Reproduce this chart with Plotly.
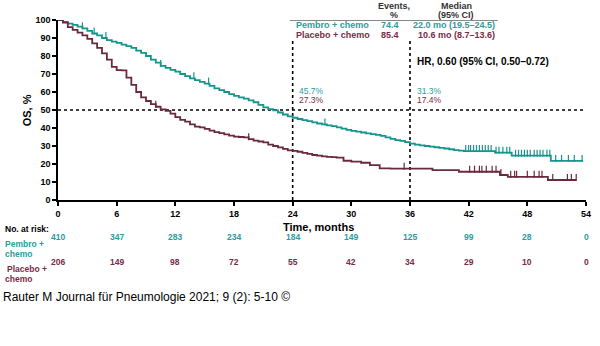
import numpy as np
import plotly.graph_objects as go

# ---------------- data ----------------
pem_t = [0, 0.5, 1, 1.5, 2, 2.5, 3, 3.5, 4, 4.5, 5, 5.5, 6, 6.5, 7, 7.5, 8, 8.5, 9, 9.5,
         10, 10.5, 11, 11.5, 12, 12.5, 13, 13.5, 14, 14.5, 15, 15.5, 16, 16.5, 17, 17.5,
         18, 18.5, 19, 19.5, 20, 20.5, 21, 21.5, 22, 22.5, 23, 23.5, 24, 24.5, 25, 25.5,
         26, 26.5, 27, 27.5, 28, 28.5, 29, 29.5, 30, 30.5, 31, 31.5, 32, 32.5, 33, 33.5,
         34, 34.5, 35, 35.5, 36, 36.5, 37, 37.5, 38, 38.5, 39, 39.5, 40, 40.5, 41, 41.5,
         44.7, 46.4, 50.4, 53.7]
pem_s = [100, 99, 98, 97.3, 96.3, 95.4, 94, 92.5, 91.5, 90, 88.8, 88, 87.3, 86.3, 85.5, 84.5,
         83, 81.7, 80, 78, 76.3, 74.5, 73.4, 72.3, 71.3, 70, 68.8, 67.6, 66.6, 65.6, 64.7,
         63.4, 62, 61, 60, 58.8, 57.8, 57, 56.3, 55.3, 54.3, 52.8, 51.5, 50.5, 49.8, 48.6,
         47.5, 46.5, 45.7, 45, 44.4, 43.8, 43.1, 42.5, 42, 41.5, 41, 40.4, 39.6, 39, 38.4,
         38, 37.5, 37, 36.6, 36.2, 35.6, 34.8, 34, 33.3, 32.8, 32.2, 31.3, 30.8, 30.4, 30,
         29.6, 29.3, 29, 28.6, 28.2, 27.7, 27.4, 27.2, 26.3, 24.6, 21.7, 21.7]
pem_cens = [2.5, 3.7, 4.9, 10.5, 13.9, 15.4, 27.3,
            41.7, 42.0, 42.2, 42.5, 42.8, 43.1, 43.4, 43.7, 44.0, 44.3, 44.8, 45.1, 45.5,
            45.9, 46.2, 46.8, 47.1, 47.4, 47.7, 48.0, 48.3, 48.7, 49.0, 49.3, 49.6, 50.0,
            50.3, 50.9, 51.5, 52.2, 52.8, 53.6]

pla_t = [0, 0.5, 1, 1.5, 2, 2.5, 3, 3.5, 4, 4.5, 5, 5.5, 6, 6.5, 7, 7.5, 8, 8.5, 9, 9.5,
         10, 10.5, 11, 11.5, 12, 12.5, 13, 13.5, 14, 14.5, 15, 15.5, 16, 16.5, 17, 17.5,
         18, 18.5, 19, 19.5, 20, 20.5, 21, 21.5, 22, 22.5, 23, 23.5, 24, 24.5, 25, 25.5,
         26, 26.5, 27, 27.5, 28, 28.5, 29.2, 30, 31, 31.9, 32.9, 34, 38.3, 41, 45.2, 46,
         50.1, 53]
pla_s = [100, 98.5, 96, 94.5, 93, 91.5, 89.5, 87, 84.5, 81.5, 78, 74, 72.2, 72, 68, 64, 60,
         57, 55, 53.3, 51.8, 50.3, 49.5, 48, 46, 44.5, 43.5, 42, 40.8, 40.3, 39.5, 38.5,
         37.7, 37.2, 36.5, 35.8, 35.2, 35, 34.8, 33.8, 33, 32.5, 32, 30.8, 30, 29.2, 28.4,
         27.6, 27.3, 26.8, 26.2, 25.6, 25, 24.6, 24.2, 24, 23.8, 23.5, 21.8, 21.3, 20.7,
         19.4, 17.6, 17.4, 16.6, 15.7, 13.9, 12.9, 11.1, 11.1]
pla_cens = [10.0, 19.5, 35.4, 42.1, 42.6, 43.1, 43.35, 43.8, 44.4, 44.8, 45.3, 46.3, 46.7,
            46.9, 48.0, 48.7, 49.2, 49.5, 50.6, 52.1, 52.5, 53.0]

risk_times = [0, 6, 12, 18, 24, 30, 36, 42, 48, 54]
risk_pem = [410, 347, 283, 234, 184, 149, 125, 99, 28, 0]
risk_pla = [206, 149, 98, 72, 55, 42, 34, 29, 10, 0]

x_ticks = [0, 6, 12, 18, 24, 30, 36, 42, 48, 54]
y_ticks = [0, 10, 20, 30, 40, 50, 60, 70, 80, 90, 100]

TEAL = "#16958e"
MAROON = "#6a2a3c"
TEAL_TXT = "#2b9c9a"
MAROON_TXT = "#7a2b48"
FONT = "Liberation Sans"

# ---------------- layout helpers (pixel -> paper / axis coords) ----------------
L, R, T, B = 58, 591, 20, 200
W, H = 600, 346
def px2x(px):
    return (px - L) / (R - L) * 54
def py2y(py):
    return (B - py) / (B - T) * 100
def px2p(px):
    return (px - L) / (R - L)
def py2p(py):
    return (B - py) / (B - T)

def step_val(ts, ss, t):
    i = np.searchsorted(np.array(ts), t, side="right") - 1
    return ss[max(i, 0)]

fig = go.Figure()
fig.add_trace(go.Scatter(x=pem_t, y=pem_s, mode="lines", line=dict(color=TEAL, width=1.8, shape="hv"),
                         hoverinfo="skip", showlegend=False, cliponaxis=False))
fig.add_trace(go.Scatter(x=pla_t, y=pla_s, mode="lines", line=dict(color=MAROON, width=1.8, shape="hv"),
                         hoverinfo="skip", showlegend=False, cliponaxis=False))

off = 1.4
fig.add_trace(go.Scatter(x=pem_cens, y=[step_val(pem_t, pem_s, t) + off for t in pem_cens], mode="markers",
                         marker=dict(symbol="line-ns", size=5, line=dict(color=TEAL, width=1.2)),
                         hoverinfo="skip", showlegend=False))
fig.add_trace(go.Scatter(x=pla_cens, y=[step_val(pla_t, pla_s, t) + off for t in pla_cens], mode="markers",
                         marker=dict(symbol="line-ns", size=5, line=dict(color=MAROON, width=1.2)),
                         hoverinfo="skip", showlegend=False))

# dotted reference lines
dot = dict(color="black", width=1.6, dash="dot")
fig.add_shape(type="line", x0=0, x1=54, y0=50, y1=50, line=dot, layer="below")
for xv in (24, 36):
    fig.add_shape(type="line", x0=xv, x1=xv, y0=0, y1=py2y(39), line=dot, layer="below")

# header rule of table
fig.add_shape(type="line", xref="paper", yref="paper", x0=px2p(292), x1=px2p(502),
              y0=py2p(20.5), y1=py2p(20.5), line=dict(color="#888888", width=1))

ann = []
def A(text, px, py, color="black", size=9, bold=True, xanchor="center", angle=0):
    t = f"<b>{text}</b>" if bold else text
    ann.append(dict(text=t, x=px2p(px), y=py2p(py), xref="paper", yref="paper", showarrow=False,
                    xanchor=xanchor, yanchor="middle", textangle=angle,
                    font=dict(family=FONT, size=size, color=color)))

# table
A("Events,", 397, 6, "#333333", 9)
A("%", 397, 15, "#333333", 9)
A("Median", 460, 6, "#333333", 9)
A("(95% CI)", 460, 15, "#333333", 9)
A("Pembro + chemo", 296, 25, TEAL_TXT, 9, xanchor="left")
A("74.4", 393, 25, TEAL_TXT, 9)
A("22.0 mo (19.5–24.5)", 458, 25, TEAL_TXT, 9)
A("Placebo + chemo", 296, 34.5, MAROON_TXT, 9, xanchor="left")
A("85.4", 393, 34.5, MAROON_TXT, 9)
A("10.6 mo (8.7–13.6)", 460, 34.5, MAROON_TXT, 9)
A("HR, 0.60 (95% CI, 0.50–0.72)", 418, 62, "black", 10, xanchor="left")

A("45.7%", 299, 91, TEAL_TXT, 8.5, bold=False, xanchor="left")
A("27.3%", 299, 100, MAROON_TXT, 8.5, bold=False, xanchor="left")
A("31.3%", 418, 91, TEAL_TXT, 8.5, bold=False, xanchor="left")
A("17.4%", 418, 100, MAROON_TXT, 8.5, bold=False, xanchor="left")

# axis titles
A("Time, months", 321, 227, "black", 11)
A("OS, %", 27, 110, "black", 11, angle=-90)

# at risk table
A("No. at risk:", 2, 229, "black", 8.5, xanchor="left")
A("Pembro +", 2, 244, TEAL_TXT, 8.5, xanchor="left")
A("chemo", 2, 254, TEAL_TXT, 8.5, xanchor="left")
A("Placebo +", 4, 269, MAROON_TXT, 8.5, xanchor="left")
A("chemo", 2, 279, MAROON_TXT, 8.5, xanchor="left")
for t, a, b in zip(risk_times, risk_pem, risk_pla):
    ann.append(dict(text=f"<b>{a}</b>", x=t, y=py2p(244), xref="x", yref="paper", showarrow=False,
                    font=dict(family=FONT, size=8.5, color=TEAL_TXT)))
    ann.append(dict(text=f"<b>{b}</b>", x=t, y=py2p(269), xref="x", yref="paper", showarrow=False,
                    font=dict(family=FONT, size=8.5, color=MAROON_TXT)))

# citation
A("Rauter M Journal für Pneumologie 2021; 9 (2): 5-10 ©", 0, 297, "black", 12, bold=False, xanchor="left")

fig.update_layout(
    width=W, height=H, margin=dict(l=L, r=W - R, t=T, b=H - B),
    paper_bgcolor="white", plot_bgcolor="white", annotations=ann,
    xaxis=dict(range=[0, 54], tickvals=x_ticks, ticktext=[f"<b>{v}</b>" for v in x_ticks],
               showgrid=False, zeroline=False, showline=True, linecolor="black", linewidth=1.5,
               ticks="outside", ticklen=4, tickwidth=1.5, tickcolor="black",
               tickfont=dict(family=FONT, size=9, color="black")),
    yaxis=dict(range=[0, 100], tickvals=y_ticks, ticktext=[f"<b>{v}</b>" for v in y_ticks],
               showgrid=False, zeroline=False, showline=True, linecolor="black", linewidth=1.5,
               ticks="outside", ticklen=4, tickwidth=1.5, tickcolor="black",
               tickfont=dict(family=FONT, size=9, color="black")),
)

fig.write_html("out.html")
